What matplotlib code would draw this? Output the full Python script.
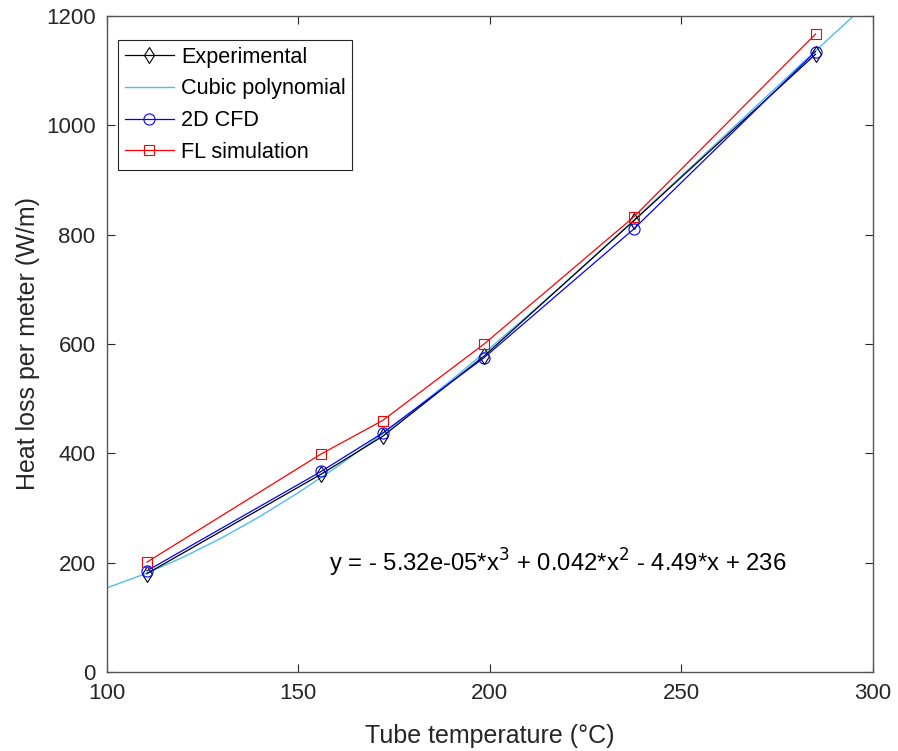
import matplotlib
matplotlib.use("Agg")
import matplotlib.pyplot as plt

plt.rcParams['font.family'] = ['Liberation Sans', 'DejaVu Sans']

# Data
temps = [110.5, 156, 172, 198.5, 237.5, 285]
experimental = [180, 362, 431, 578, 825, 1130]
cfd_2d = [185, 367, 437, 575, 810, 1135]
fl_sim = [201, 399, 460, 600, 832, 1167]

# Cubic polynomial curve
cubic_x = [100, 110, 120, 130, 140, 150, 160, 170, 180, 190, 200,
           210, 220, 230, 240, 250, 260, 270, 280, 290, 300]
cubic_y = [153.8, 179.5, 210.1, 245.2, 284.6, 328.0, 374.9, 425.1, 478.3, 534.2, 592.4,
           652.6, 714.5, 777.8, 842.2, 907.3, 972.8, 1038.4, 1103.8, 1168.6, 1232.6]

x_ticks = [100, 150, 200, 250, 300]
y_ticks = [0, 200, 400, 600, 800, 1000, 1200]
equation = 'y = - 5.32e-05*x$^3$ + 0.042*x$^2$ - 4.49*x + 236'

fig = plt.figure(figsize=(8.98, 7.51), dpi=100)
ax = fig.add_axes([0.1188, 0.1052, 0.9722 - 0.1188, 0.9787 - 0.1052])

ax.plot(temps, experimental, color='black', lw=0.9, marker='d', markersize=8,
        markerfacecolor='none', markeredgecolor='black', markeredgewidth=0.8,
        label='Experimental', zorder=3)
ax.plot(cubic_x, cubic_y, color='#4DBEEE', lw=1.0, label='Cubic polynomial', zorder=2)
ax.plot(temps, cfd_2d, color='blue', lw=0.9, marker='o', markersize=8,
        markerfacecolor='none', markeredgecolor='blue', markeredgewidth=0.8,
        label='2D CFD', zorder=4)
ax.plot(temps, fl_sim, color='red', lw=0.9, marker='s', markersize=6.5,
        markerfacecolor='none', markeredgecolor='red', markeredgewidth=0.8,
        label='FL simulation', zorder=5)

ax.set_xlim(100, 300)
ax.set_ylim(0, 1200)
ax.set_xticks(x_ticks)
ax.set_yticks(y_ticks)
ax.tick_params(direction='in', length=6, width=0.8, colors='#262626', labelsize=16,
               top=True, right=True, pad=8)
for s in ax.spines.values():
    s.set_color('#555555')
    s.set_linewidth(1.0)

ax.set_xlabel('Tube temperature (°C)', fontsize=18, color='#262626', labelpad=14)
ax.set_ylabel('Heat loss per meter (W/m)', fontsize=18, color='#262626', labelpad=4)

ax.text(158, 200, equation, fontsize=17.2, color='black', va='center', ha='left')

leg = ax.legend(loc='upper left', bbox_to_anchor=(118 / 898, 1 - 40 / 751),
                bbox_transform=fig.transFigure, prop={'size': 15.6}, frameon=True,
                fancybox=False, edgecolor='#262626', framealpha=1,
                handlelength=2.3, handletextpad=0.3, labelspacing=0.5,
                borderpad=0.3, borderaxespad=0)
leg.get_frame().set_linewidth(0.8)

fig.savefig('out.png', dpi=100)
